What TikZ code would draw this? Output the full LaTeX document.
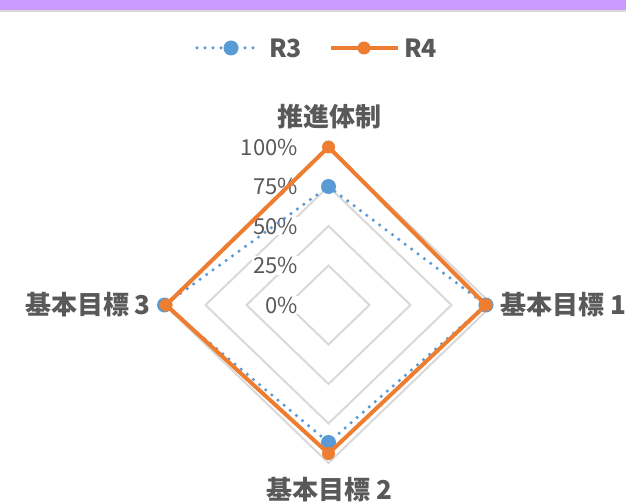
\documentclass[tikz,border=0pt]{standalone}
\usepackage{fontspec}
\setmainfont{Noto Sans CJK JP}
\usepackage{tikz}

\definecolor{bandpurple}{HTML}{CC99FF}
\definecolor{gridgray}{HTML}{D9D9D9}
\definecolor{textgray}{HTML}{595959}
\definecolor{rthree}{HTML}{5B9BD5}
\definecolor{rfour}{HTML}{ED7D31}

\tikzset{
  gridline/.style={color=gridgray, line width=2pt, line join=miter},
  catlabel/.style={text=textgray, font=\fontsize{26}{28}\selectfont\bfseries, inner sep=0pt},
  pctlabel/.style={text=textgray, font=\fontsize{22}{24}\selectfont, fill=white, inner sep=1pt, anchor=east},
  legendlabel/.style={text=textgray, font=\fontsize{25}{27}\selectfont\bfseries, inner sep=0pt, anchor=west},
  rthreeline/.style={color=rthree, line width=3.5pt, line cap=round, dash pattern=on 0pt off 8pt},
  rfourline/.style={color=rfour, line width=4pt, line join=round},
}

\begin{document}
\begin{tikzpicture}[x=1pt, y=-1pt]
            \useasboundingbox (0, 0) rectangle (626, 502);
            \fill[color=bandpurple] (0, 0) rectangle (626, 10);
            \fill[color=gridgray] (0, 10) rectangle (626, 12.5);

            % legend
            \coordinate (r3start) at (197, 48);
            \coordinate (r3end) at (257, 48);
            \draw[rthreeline] (r3start) -- (r3end);
            \fill[color=rthree] (231, 48) circle (7.5);
            \node[legendlabel] (r3name) at (269, 48){R3};

            \coordinate (r4start) at (331, 48);
            \coordinate (r4end) at (398, 48);
            \draw[rfourline] (r4start) -- (r4end);
            \fill[color=rfour] (364, 48) circle (6.5);
            \node[legendlabel] (r4name) at (404, 48){R4};

            % radar
            \begin{scope}[shift={(328.5, 305)}, x=164pt, y=158pt]
                \coordinate (center) at (0, 0);
                \foreach \r in {0.25, 0.5, 0.75, 1} {
                    \draw[gridline] (0, \r) -- (\r, 0) -- (0, -\r) -- (-\r, 0) -- cycle;
                }

                \node[pctlabel] (p100) at (-0.18, 1){100\%};
                \node[pctlabel] (p75) at (-0.18, 0.75){75\%};
                \node[pctlabel] (p50) at (-0.18, 0.5){50\%};
                \node[pctlabel] (p25) at (-0.18, 0.25){25\%};
                \node[pctlabel] (p0) at (-0.18, 0){0\%};

                \coordinate (r3top) at (0, 0.75);
                \coordinate (r3right) at (0.96, 0);
                \coordinate (r3bottom) at (0, -0.87);
                \coordinate (r3left) at (-1, 0);
                \draw[rthreeline] (r3top) -- (r3right) -- (r3bottom) -- (r3left) -- cycle;
                \foreach \p in {r3top, r3right, r3bottom, r3left} {
                    \fill[color=rthree] (\p) circle (7.5pt);
                }

                \coordinate (r4top) at (0, 1);
                \coordinate (r4right) at (0.96, 0);
                \coordinate (r4bottom) at (0, -0.94);
                \coordinate (r4left) at (-0.99, 0);
                \draw[rfourline] (r4top) -- (r4right) -- (r4bottom) -- (r4left) -- cycle;
                \foreach \p in {r4top, r4right, r4bottom, r4left} {
                    \fill[color=rfour] (\p) circle (6.5pt);
                }
            \end{scope}

            \node[catlabel] (cattop) at (329, 117){推進体制};
            \node[catlabel, anchor=west] (catright) at (500, 305){基本目標 1};
            \node[catlabel] (catbottom) at (329, 490){基本目標 2};
            \node[catlabel, anchor=east] (catleft) at (151, 305){基本目標 3};
        \end{tikzpicture}
\end{document}
